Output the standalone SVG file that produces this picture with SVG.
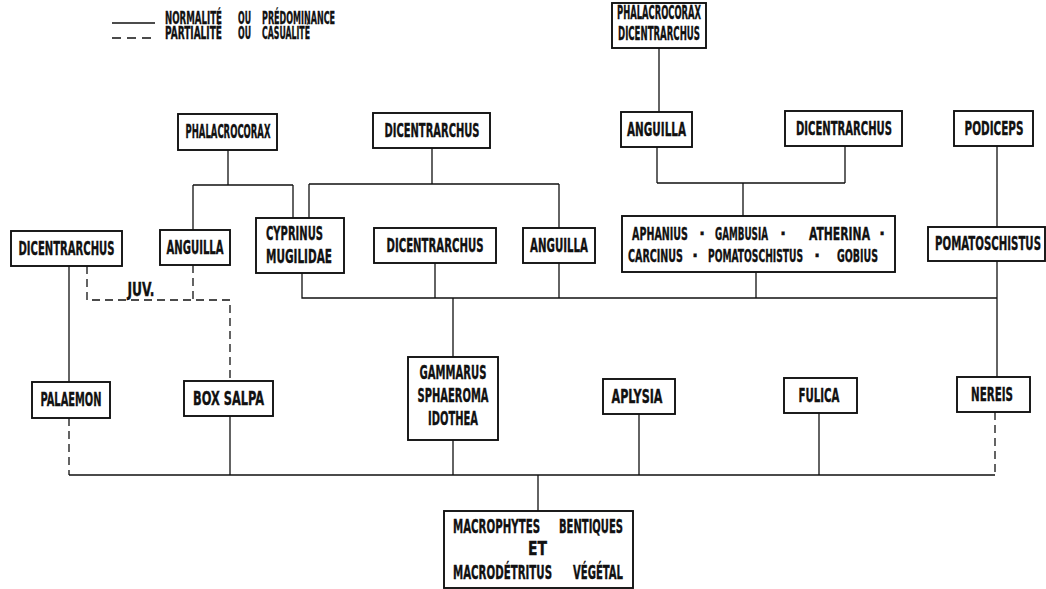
<svg xmlns="http://www.w3.org/2000/svg" width="1046" height="589" viewBox="0 0 1046 589">
<style>
.box{fill:#fff;stroke:#111;stroke-width:1.9}
.t{font-family:"Liberation Sans Narrow","DejaVu Sans Condensed","Liberation Sans",sans-serif;font-weight:bold;font-size:19px;fill:#111;stroke:#111;stroke-width:0.35;text-anchor:middle}
.s{text-anchor:start}
.lg{font-size:17px}
.ap{font-size:18px}
.ln{fill:none;stroke:#111;stroke-width:1.3}
.dash{stroke-dasharray:8 5}
</style>
<rect width="1046" height="589" fill="#fff"/>
<g id="legend">
<path class="ln" d="M112 23 H155"/>
<path class="ln" d="M112 38 H155" stroke-dasharray="9 6"/>
<text class="t s lg" x="165" y="24" textLength="57" lengthAdjust="spacingAndGlyphs">NORMALITÉ</text>
<text class="t s lg" x="238" y="24" textLength="13" lengthAdjust="spacingAndGlyphs">OU</text>
<text class="t s lg" x="262" y="24" textLength="73" lengthAdjust="spacingAndGlyphs">PRÉDOMINANCE</text>
<text class="t s lg" x="165" y="39" textLength="57" lengthAdjust="spacingAndGlyphs">PARTIALITÉ</text>
<text class="t s lg" x="238" y="39" textLength="13" lengthAdjust="spacingAndGlyphs">OU</text>
<text class="t s lg" x="262" y="39" textLength="48" lengthAdjust="spacingAndGlyphs">CASUALITÉ</text>
</g>
<g id="connectors">
<path class="ln" d="M659 48 V112 M657 147 V183 M845 146 V183 M657 183 H845 M743 183 V216 M756 272 V298 M997 146 V227 M997 261 V377 M302 273 V298 H997 M435 263 V298 M559 263 V298 M453 298 V357 M228 150 V185 M193 185 H293 M193 185 V230 M293 185 V218 M432 148 V184 M309 184 H559 M309 184 V218 M559 184 V228 M69 266 V382 M230 416 V475 M453 440 V475 M639 414 V475 M819 413 V475 M69 475 H995 M538 475 V511"/>
<path class="ln dash" d="M87 266 V300 H230 V381 M193 265 V300 M69 418 V475 M995 412 V475"/>
<text class="t" x="141" y="296" font-size="16" textLength="27" lengthAdjust="spacingAndGlyphs">JUV.</text>
</g>
<g id="n-phal-dic"><rect class="box" x="612" y="3" width="94" height="45"/>
<text class="t" x="659" y="19" textLength="84" lengthAdjust="spacingAndGlyphs">PHALACROCORAX</text>
<text class="t" x="659" y="40" textLength="82" lengthAdjust="spacingAndGlyphs">DICENTRARCHUS</text></g>
<g id="n-phal"><rect class="box" x="178" y="114" width="99" height="36"/>
<text class="t" x="228" y="138" textLength="85" lengthAdjust="spacingAndGlyphs">PHALACROCORAX</text></g>
<g id="n-dic-top"><rect class="box" x="373" y="113" width="117" height="35"/>
<text class="t" x="432" y="137" textLength="95" lengthAdjust="spacingAndGlyphs">DICENTRARCHUS</text></g>
<g id="n-ang-tr"><rect class="box" x="621" y="112" width="71" height="35"/>
<text class="t" x="656.5" y="136" textLength="59" lengthAdjust="spacingAndGlyphs">ANGUILLA</text></g>
<g id="n-dic-r"><rect class="box" x="785" y="111" width="117" height="35"/>
<text class="t" x="844" y="135" textLength="96" lengthAdjust="spacingAndGlyphs">DICENTRARCHUS</text></g>
<g id="n-podiceps"><rect class="box" x="954" y="111" width="79" height="35"/>
<text class="t" x="994" y="135" textLength="59" lengthAdjust="spacingAndGlyphs">PODICEPS</text></g>
<g id="n-dic-l"><rect class="box" x="11" y="231" width="111" height="35"/>
<text class="t" x="66.5" y="255" textLength="96" lengthAdjust="spacingAndGlyphs">DICENTRARCHUS</text></g>
<g id="n-ang-l"><rect class="box" x="160" y="230" width="70" height="35"/>
<text class="t" x="195" y="254" textLength="57" lengthAdjust="spacingAndGlyphs">ANGUILLA</text></g>
<g id="n-cyprinus"><rect class="box" x="256" y="218" width="88" height="55"/>
<text class="t s" x="266" y="240" textLength="57" lengthAdjust="spacingAndGlyphs">CYPRINUS</text>
<text class="t s" x="266" y="263" textLength="66" lengthAdjust="spacingAndGlyphs">MUGILIDAE</text></g>
<g id="n-dic-m"><rect class="box" x="374" y="228" width="122" height="35"/>
<text class="t" x="435" y="252" textLength="97" lengthAdjust="spacingAndGlyphs">DICENTRARCHUS</text></g>
<g id="n-ang-m"><rect class="box" x="523" y="228" width="72" height="35"/>
<text class="t" x="559" y="252" textLength="58" lengthAdjust="spacingAndGlyphs">ANGUILLA</text></g>
<g id="n-aphanius"><rect class="box" x="622" y="216" width="273" height="56"/>
<text class="t s ap" x="632" y="240" textLength="56" lengthAdjust="spacingAndGlyphs">APHANIUS</text>
<text class="t ap" x="702" y="240">·</text>
<text class="t s ap" x="715" y="240" textLength="53" lengthAdjust="spacingAndGlyphs">GAMBUSIA</text>
<text class="t ap" x="783" y="240">·</text>
<text class="t s ap" x="809" y="240" textLength="61" lengthAdjust="spacingAndGlyphs">ATHERINA</text>
<text class="t ap" x="882" y="240">·</text>
<text class="t s ap" x="628" y="262" textLength="55" lengthAdjust="spacingAndGlyphs">CARCINUS</text>
<text class="t ap" x="695" y="262">·</text>
<text class="t s ap" x="708" y="262" textLength="95" lengthAdjust="spacingAndGlyphs">POMATOSCHISTUS</text>
<text class="t ap" x="817" y="262">·</text>
<text class="t s ap" x="837" y="262" textLength="41" lengthAdjust="spacingAndGlyphs">GOBIUS</text></g>
<g id="n-pomato"><rect class="box" x="928" y="227" width="117" height="34"/>
<text class="t" x="988" y="250" textLength="106" lengthAdjust="spacingAndGlyphs">POMATOSCHISTUS</text></g>
<g id="n-palaemon"><rect class="box" x="32" y="382" width="78" height="36"/>
<text class="t" x="71" y="406" textLength="61" lengthAdjust="spacingAndGlyphs">PALAEMON</text></g>
<g id="n-boxsalpa"><rect class="box" x="184" y="381" width="89" height="35"/>
<text class="t" x="228.5" y="405" textLength="71" lengthAdjust="spacingAndGlyphs">BOX  SALPA</text></g>
<g id="n-gammarus"><rect class="box" x="408" y="357" width="90" height="83"/>
<text class="t" x="453" y="379" textLength="67" lengthAdjust="spacingAndGlyphs">GAMMARUS</text>
<text class="t" x="453" y="402" textLength="71" lengthAdjust="spacingAndGlyphs">SPHAEROMA</text>
<text class="t" x="453" y="425" textLength="50" lengthAdjust="spacingAndGlyphs">IDOTHEA</text></g>
<g id="n-aplysia"><rect class="box" x="603" y="379" width="72" height="35"/>
<text class="t" x="637" y="403" textLength="51" lengthAdjust="spacingAndGlyphs">APLYSIA</text></g>
<g id="n-fulica"><rect class="box" x="784" y="378" width="73" height="35"/>
<text class="t" x="819" y="402" textLength="41" lengthAdjust="spacingAndGlyphs">FULICA</text></g>
<g id="n-nereis"><rect class="box" x="957" y="377" width="73" height="35"/>
<text class="t" x="992" y="401" textLength="42" lengthAdjust="spacingAndGlyphs">NEREIS</text></g>
<g id="n-macrophytes"><rect class="box" x="444" y="511" width="189" height="77"/>
<text class="t s" x="453" y="533" textLength="87" lengthAdjust="spacingAndGlyphs">MACROPHYTES</text>
<text class="t s" x="559" y="533" textLength="64" lengthAdjust="spacingAndGlyphs">BENTIQUES</text>
<text class="t" x="537.5" y="555" textLength="19" lengthAdjust="spacingAndGlyphs">ET</text>
<text class="t s" x="453" y="579" textLength="99" lengthAdjust="spacingAndGlyphs">MACRODÉTRITUS</text>
<text class="t s" x="573" y="579" textLength="50" lengthAdjust="spacingAndGlyphs">VÉGÉTAL</text></g>
</svg>
